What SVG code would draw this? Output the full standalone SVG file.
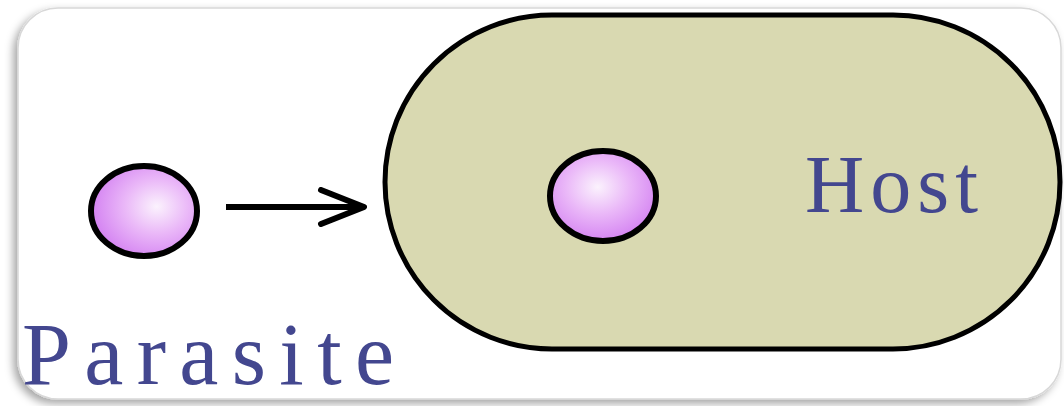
<svg xmlns="http://www.w3.org/2000/svg" width="1064" height="406" viewBox="0 0 1064 406">
<style>
.lbl{font-family:"Liberation Serif","DejaVu Serif",serif;fill:#43478f;}
.ball{stroke:#000;stroke-width:6;}
</style>
<defs>
<radialGradient id="g1" cx="0.62" cy="0.45" r="0.6">
<stop offset="0" stop-color="#fbf2fd"/>
<stop offset="0.5" stop-color="#eab8f8"/>
<stop offset="1" stop-color="#d585f2"/>
</radialGradient>
<radialGradient id="g2" cx="0.45" cy="0.4" r="0.6">
<stop offset="0" stop-color="#fbf2fd"/>
<stop offset="0.5" stop-color="#eab8f8"/>
<stop offset="1" stop-color="#d585f2"/>
</radialGradient>
<filter id="sh" x="-5%" y="-5%" width="110%" height="115%">
<feDropShadow dx="-4" dy="4" stdDeviation="4" flood-color="#000" flood-opacity="0.35"/>
</filter>
<marker id="arr" viewBox="0 0 50 40" refX="47" refY="20" markerWidth="50" markerHeight="40" markerUnits="userSpaceOnUse" orient="auto">
<path d="M4 3 L47 20 L4 37" fill="none" stroke="#000" stroke-width="6" stroke-linecap="round" stroke-linejoin="round"/>
</marker>
</defs>
<rect width="1064" height="406" fill="#fff"/>
<rect id="card" x="18" y="8" width="1043" height="391" rx="40" fill="#fff" stroke="#d8d8d8" stroke-width="1.5" filter="url(#sh)"/>
<g id="host">
<rect x="385" y="15" width="675" height="334" rx="167" fill="#d9d9b1" stroke="#000" stroke-width="5"/>
<text class="lbl" x="805" y="212" font-size="82" textLength="173" lengthAdjust="spacing">Host</text>
</g>
<g id="inner">
<ellipse class="ball" cx="603" cy="196" rx="53" ry="45" fill="url(#g2)"/>
</g>
<g id="parasite">
<ellipse class="ball" cx="144" cy="211" rx="53" ry="45" fill="url(#g1)"/>
<text class="lbl" x="22" y="384" font-size="88" textLength="372" lengthAdjust="spacing">Parasite</text>
</g>
<g id="connectors">
<line x1="226" y1="207" x2="364" y2="207" stroke="#000" stroke-width="6" marker-end="url(#arr)"/>
</g>
</svg>
